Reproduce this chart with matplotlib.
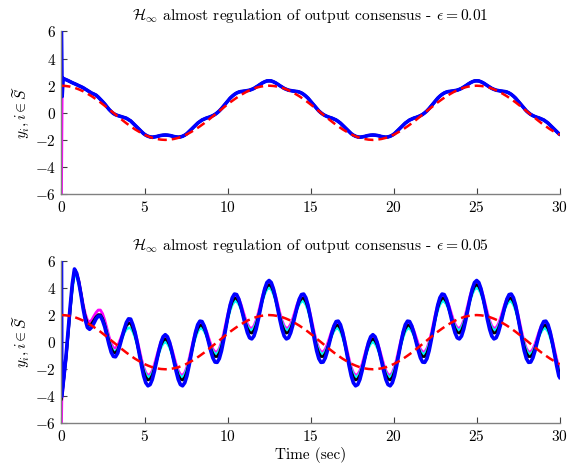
import numpy as np
import matplotlib
matplotlib.use('Agg')
import matplotlib.pyplot as plt

plt.rcParams['font.family'] = 'serif'
plt.rcParams['font.serif'] = ['cmr10']
plt.rcParams['mathtext.fontset'] = 'cm'
plt.rcParams['axes.formatter.use_mathtext'] = True

# sample times of the agent curves: t = j * 12.5 / 96, j = 1..230, then t = 30
t_fine = np.arange(1, 231) * 12.5 / 96
# sample times of the reference: t = k * 12.5 / 48, k = 1..115, then t = 30
t_coarse = np.arange(1, 116) * 12.5 / 48

# reference trajectory (red dashed), t = 0, k = 1..115, t = 30
ref = [2.00,
       1.98, 1.93, 1.85, 1.73, 1.59, 1.41, 1.22, 1.00, 0.77, 0.52, 0.26, 0.00, -0.26, -0.52, -0.77, -1.00,
       -1.22, -1.41, -1.59, -1.73, -1.85, -1.93, -1.98, -2.00, -1.98, -1.93, -1.85, -1.73, -1.59, -1.41, -1.22,
       -1.00, -0.77, -0.52, -0.26, 0.00, 0.26, 0.52, 0.77, 1.00, 1.22, 1.41, 1.59, 1.73, 1.85, 1.93, 1.98,
       2.00, 1.98, 1.93, 1.85, 1.73, 1.59, 1.41, 1.22, 1.00, 0.77, 0.52, 0.26, 0.00, -0.26, -0.52, -0.77,
       -1.00, -1.22, -1.41, -1.59, -1.73, -1.85, -1.93, -1.98, -2.00, -1.98, -1.93, -1.85, -1.73, -1.59, -1.41,
       -1.22, -1.00, -0.77, -0.52, -0.26, 0.00, 0.26, 0.52, 0.77, 1.00, 1.22, 1.41, 1.59, 1.73, 1.85, 1.93, 1.98,
       2.00, 1.98, 1.93, 1.85, 1.73, 1.59, 1.41, 1.22, 1.00, 0.77, 0.52, 0.26, 0.00, -0.26, -0.52, -0.77,
       -1.00, -1.22, -1.41, -1.59,
       -1.62]

# top panel (eps = 0.01): agents start apart and then follow one curve
top_start_times = [0.0, 0.04, 0.10]
top_start_magenta = [-6.0, 1.2, 2.50]
top_start_cyan = [1.2, 1.4, 2.50]
top_start_black = [2.0, 2.2, 2.50]
top_start_blue = [6.0, 1.2, 2.55]
top_common = [
    2.52, 2.45, 2.38, 2.30, 2.22, 2.15, 2.08, 2.00, 1.93, 1.85, 1.75, 1.65, 1.55, 1.45, 1.38, 1.30,
    1.16, 1.00, 0.83, 0.65, 0.45, 0.25, 0.09, -0.05, -0.14, -0.20, -0.25, -0.30, -0.35, -0.40, -0.50, -0.60,
    -0.76, -0.91, -1.07, -1.23, -1.39, -1.54, -1.65, -1.73, -1.78, -1.80, -1.78, -1.75, -1.71, -1.67, -1.65, -1.64,
    -1.65, -1.67, -1.71, -1.75, -1.78, -1.80, -1.78, -1.73, -1.65, -1.54, -1.39, -1.23, -1.07, -0.91, -0.76, -0.64,
    -0.53, -0.46, -0.39, -0.34, -0.28, -0.21, -0.12, 0.00, 0.14, 0.31, 0.50, 0.70, 0.89, 1.08, 1.23, 1.36,
    1.46, 1.53, 1.57, 1.59, 1.61, 1.64, 1.67, 1.73, 1.80, 1.90, 2.00, 2.11, 2.21, 2.29, 2.35,
    2.36, 2.35, 2.29, 2.21, 2.11, 2.00, 1.90, 1.80, 1.73, 1.67, 1.64, 1.61, 1.59, 1.57, 1.53, 1.46,
    1.36, 1.23, 1.08, 0.89, 0.70, 0.50, 0.31, 0.14, 0.00, -0.12, -0.21, -0.28, -0.34, -0.39, -0.46, -0.53,
    -0.64, -0.76, -0.91, -1.07, -1.23, -1.39, -1.54, -1.65, -1.73, -1.78, -1.80, -1.78, -1.75, -1.71, -1.67, -1.65,
    -1.64,
    -1.65, -1.67, -1.71, -1.75, -1.78, -1.80, -1.78, -1.73, -1.65, -1.54, -1.39, -1.23, -1.07, -0.91, -0.76, -0.64,
    -0.53, -0.46, -0.39, -0.34, -0.28, -0.21, -0.12, 0.00, 0.14, 0.31, 0.50, 0.70, 0.89, 1.08, 1.23, 1.36,
    1.46, 1.53, 1.57, 1.59, 1.61, 1.64, 1.67, 1.73, 1.80, 1.90, 2.00, 2.11, 2.21, 2.29, 2.35,
    2.36, 2.35, 2.29, 2.21, 2.11, 2.00, 1.90, 1.80, 1.73, 1.67, 1.64, 1.61, 1.59, 1.57, 1.53, 1.46,
    1.36, 1.23, 1.08, 0.89, 0.70, 0.50, 0.31, 0.14, 0.00, -0.12, -0.21, -0.28, -0.34, -0.39, -0.46, -0.53,
    -0.64, -0.76, -0.91, -1.07, -1.23, -1.39, -1.54,
    -1.58]

# bottom panel (eps = 0.05)
bot_start_times = [0.0, 0.02]
bot_start_magenta = [-6.0, -4.3]
bot_start_cyan = [-4.0, -3.9]
bot_start_black = [-4.2, -4.0]
bot_start_blue = [6.0, -4.0]

bot_magenta = [
    -2.90, -1.40, 0.40, 2.30, 4.10, 5.30, 5.10, 4.56, 3.70, 2.83, 2.10, 1.62, 1.50, 1.64, 1.93, 2.19,
    2.37, 2.37, 2.10, 1.63, 1.02, 0.41, -0.10, -0.41, -0.44, -0.25, 0.13, 0.55, 0.95, 1.30, 1.50, 1.55,
    1.22, 0.77, 0.16, -0.54, -1.24, -1.84, -2.25, -2.44, -2.38, -2.10, -1.63, -1.06, -0.48, 0.01, 0.33, 0.45,
    0.33, 0.01, -0.48, -1.06, -1.63, -2.10, -2.38, -2.44, -2.25, -1.84, -1.24, -0.54, 0.16, 0.77, 1.22, 1.45,
    1.45, 1.22, 0.84, 0.35, -0.13, -0.51, -0.72, -0.71, -0.46, 0.01, 0.65, 1.39, 2.12, 2.76, 3.21, 3.45,
    3.44, 3.21, 2.80, 2.28, 1.76, 1.34, 1.07, 1.02, 1.20, 1.60, 2.15, 2.80, 3.44, 3.97, 4.33,
    4.45, 4.33, 3.97, 3.44, 2.80, 2.15, 1.60, 1.20, 1.02, 1.07, 1.34, 1.76, 2.28, 2.80, 3.21, 3.44,
    3.45, 3.21, 2.76, 2.12, 1.39, 0.65, 0.01, -0.46, -0.71, -0.72, -0.51, -0.13, 0.35, 0.84, 1.22, 1.45,
    1.45, 1.22, 0.77, 0.16, -0.54, -1.24, -1.84, -2.25, -2.44, -2.38, -2.10, -1.63, -1.06, -0.48, 0.01, 0.33,
    0.45,
    0.33, 0.01, -0.48, -1.06, -1.63, -2.10, -2.38, -2.44, -2.25, -1.84, -1.24, -0.54, 0.16, 0.77, 1.22, 1.45,
    1.45, 1.22, 0.84, 0.35, -0.13, -0.51, -0.72, -0.71, -0.46, 0.01, 0.65, 1.39, 2.12, 2.76, 3.21, 3.45,
    3.44, 3.21, 2.80, 2.28, 1.76, 1.34, 1.07, 1.02, 1.20, 1.60, 2.15, 2.80, 3.44, 3.97, 4.33,
    4.45, 4.33, 3.97, 3.44, 2.80, 2.15, 1.60, 1.20, 1.02, 1.07, 1.34, 1.76, 2.28, 2.80, 3.21, 3.44,
    3.45, 3.21, 2.76, 2.12, 1.39, 0.65, 0.01, -0.46, -0.71, -0.72, -0.51, -0.13, 0.35, 0.84, 1.22, 1.45,
    1.45, 1.22, 0.77, 0.16, -0.54, -1.24, -1.84,
    -2.03]

bot_cyan = [
    -2.80, -1.35, 0.45, 2.30, 3.90, 5.00, 4.85, 4.30, 3.50, 2.60, 1.85, 1.30, 1.18, 1.30, 1.58, 1.85,
    1.97, 1.95, 1.70, 1.30, 0.75, 0.15, -0.35, -0.65, -0.68, -0.50, -0.10, 0.30, 0.68, 0.95, 1.05, 1.05,
    0.79, 0.37, -0.19, -0.83, -1.47, -2.02, -2.40, -2.58, -2.53, -2.28, -1.86, -1.35, -0.83, -0.39, -0.10, 0.01,
    -0.10, -0.39, -0.83, -1.35, -1.86, -2.28, -2.53, -2.58, -2.40, -2.02, -1.47, -0.83, -0.19, 0.37, 0.79, 1.01,
    1.02, 0.82, 0.49, 0.06, -0.36, -0.69, -0.87, -0.85, -0.61, -0.17, 0.42, 1.10, 1.77, 2.36, 2.78, 3.01,
    3.01, 2.81, 2.45, 1.99, 1.53, 1.16, 0.92, 0.88, 1.05, 1.42, 1.92, 2.51, 3.09, 3.57, 3.90,
    4.01, 3.90, 3.57, 3.09, 2.51, 1.92, 1.42, 1.05, 0.88, 0.92, 1.16, 1.53, 1.99, 2.45, 2.81, 3.01,
    3.01, 2.78, 2.36, 1.77, 1.10, 0.42, -0.17, -0.61, -0.85, -0.87, -0.69, -0.36, 0.06, 0.49, 0.82, 1.02,
    1.01, 0.79, 0.37, -0.19, -0.83, -1.47, -2.02, -2.40, -2.58, -2.53, -2.28, -1.86, -1.35, -0.83, -0.39, -0.10,
    0.01,
    -0.10, -0.39, -0.83, -1.35, -1.86, -2.28, -2.53, -2.58, -2.40, -2.02, -1.47, -0.83, -0.19, 0.37, 0.79, 1.01,
    1.02, 0.82, 0.49, 0.06, -0.36, -0.69, -0.87, -0.85, -0.61, -0.17, 0.42, 1.10, 1.77, 2.36, 2.78, 3.01,
    3.01, 2.81, 2.45, 1.99, 1.53, 1.16, 0.92, 0.88, 1.05, 1.42, 1.92, 2.51, 3.09, 3.57, 3.90,
    4.01, 3.90, 3.57, 3.09, 2.51, 1.92, 1.42, 1.05, 0.88, 0.92, 1.16, 1.53, 1.99, 2.45, 2.81, 3.01,
    3.01, 2.78, 2.36, 1.77, 1.10, 0.42, -0.17, -0.61, -0.85, -0.87, -0.69, -0.36, 0.06, 0.49, 0.82, 1.02,
    1.01, 0.79, 0.37, -0.19, -0.83, -1.47, -2.02,
    -2.20]

bot_black = [
    -2.80, -1.30, 0.50, 2.40, 4.10, 5.25, 5.05, 4.47, 3.60, 2.65, 1.90, 1.37, 1.26, 1.38, 1.62, 1.87,
    2.03, 2.02, 1.75, 1.28, 0.68, 0.06, -0.45, -0.76, -0.78, -0.57, -0.12, 0.37, 0.82, 1.21, 1.38, 1.40,
    1.00, 0.54, -0.10, -0.82, -1.54, -2.17, -2.59, -2.79, -2.72, -2.43, -1.93, -1.34, -0.74, -0.22, 0.11, 0.24,
    0.11, -0.22, -0.74, -1.34, -1.93, -2.43, -2.72, -2.79, -2.59, -2.17, -1.54, -0.82, -0.10, 0.54, 1.00, 1.24,
    1.23, 0.99, 0.58, 0.07, -0.43, -0.84, -1.06, -1.06, -0.80, -0.32, 0.35, 1.11, 1.86, 2.53, 2.99, 3.24,
    3.22, 2.98, 2.54, 2.00, 1.46, 1.01, 0.73, 0.67, 0.86, 1.27, 1.85, 2.52, 3.18, 3.74, 4.11,
    4.24, 4.11, 3.74, 3.18, 2.52, 1.85, 1.27, 0.86, 0.67, 0.73, 1.01, 1.46, 2.00, 2.54, 2.98, 3.22,
    3.24, 2.99, 2.53, 1.86, 1.11, 0.35, -0.32, -0.80, -1.06, -1.06, -0.84, -0.43, 0.07, 0.58, 0.99, 1.23,
    1.24, 1.00, 0.54, -0.10, -0.82, -1.54, -2.17, -2.59, -2.79, -2.72, -2.43, -1.93, -1.34, -0.74, -0.22, 0.11,
    0.24,
    0.11, -0.22, -0.74, -1.34, -1.93, -2.43, -2.72, -2.79, -2.59, -2.17, -1.54, -0.82, -0.10, 0.54, 1.00, 1.24,
    1.23, 0.99, 0.58, 0.07, -0.43, -0.84, -1.06, -1.06, -0.80, -0.32, 0.35, 1.11, 1.86, 2.53, 2.99, 3.24,
    3.22, 2.98, 2.54, 2.00, 1.46, 1.01, 0.73, 0.67, 0.86, 1.27, 1.85, 2.52, 3.18, 3.74, 4.11,
    4.24, 4.11, 3.74, 3.18, 2.52, 1.85, 1.27, 0.86, 0.67, 0.73, 1.01, 1.46, 2.00, 2.54, 2.98, 3.22,
    3.24, 2.99, 2.53, 1.86, 1.11, 0.35, -0.32, -0.80, -1.06, -1.06, -0.84, -0.43, 0.07, 0.58, 0.99, 1.23,
    1.24, 1.00, 0.54, -0.10, -0.82, -1.54, -2.17,
    -2.37]

bot_blue = [
    -2.70, -1.20, 0.70, 2.60, 4.30, 5.40, 5.10, 4.42, 3.50, 2.49, 1.65, 1.08, 0.95, 1.11, 1.40, 1.72,
    1.92, 1.92, 1.60, 1.13, 0.48, -0.18, -0.75, -1.05, -1.08, -0.81, -0.25, 0.35, 0.95, 1.45, 1.72, 1.70,
    1.29, 0.74, -0.02, -0.88, -1.74, -2.49, -3.00, -3.22, -3.13, -2.75, -2.13, -1.40, -0.66, -0.02, 0.40, 0.55,
    0.40, -0.02, -0.66, -1.40, -2.13, -2.75, -3.13, -3.22, -3.00, -2.49, -1.74, -0.88, -0.02, 0.74, 1.29, 1.55,
    1.52, 1.19, 0.66, 0.01, -0.63, -1.16, -1.47, -1.49, -1.21, -0.64, 0.15, 1.05, 1.94, 2.73, 3.28, 3.55,
    3.51, 3.18, 2.62, 1.94, 1.26, 0.69, 0.32, 0.24, 0.45, 0.95, 1.65, 2.46, 3.26, 3.94, 4.40,
    4.55, 4.40, 3.94, 3.26, 2.46, 1.65, 0.95, 0.45, 0.24, 0.32, 0.69, 1.26, 1.94, 2.62, 3.18, 3.51,
    3.55, 3.28, 2.73, 1.94, 1.05, 0.15, -0.64, -1.21, -1.49, -1.47, -1.16, -0.63, 0.01, 0.66, 1.19, 1.52,
    1.55, 1.29, 0.74, -0.02, -0.88, -1.74, -2.49, -3.00, -3.22, -3.13, -2.75, -2.13, -1.40, -0.66, -0.02, 0.40,
    0.55,
    0.40, -0.02, -0.66, -1.40, -2.13, -2.75, -3.13, -3.22, -3.00, -2.49, -1.74, -0.88, -0.02, 0.74, 1.29, 1.55,
    1.52, 1.19, 0.66, 0.01, -0.63, -1.16, -1.47, -1.49, -1.21, -0.64, 0.15, 1.05, 1.94, 2.73, 3.28, 3.55,
    3.51, 3.18, 2.62, 1.94, 1.26, 0.69, 0.32, 0.24, 0.45, 0.95, 1.65, 2.46, 3.26, 3.94, 4.40,
    4.55, 4.40, 3.94, 3.26, 2.46, 1.65, 0.95, 0.45, 0.24, 0.32, 0.69, 1.26, 1.94, 2.62, 3.18, 3.51,
    3.55, 3.28, 2.73, 1.94, 1.05, 0.15, -0.64, -1.21, -1.49, -1.47, -1.16, -0.63, 0.01, 0.66, 1.19, 1.52,
    1.55, 1.29, 0.74, -0.02, -0.88, -1.74, -2.49,
    -2.60]

titles = [r'$\mathcal{H}_\infty$ almost regulation of output consensus - $\epsilon = 0.01$',
          r'$\mathcal{H}_\infty$ almost regulation of output consensus - $\epsilon = 0.05$']
ylabel = r'$y_i, i \in \widetilde{S}$'

t_end = [30.0]
t_top = np.concatenate([top_start_times, t_fine, t_end])
t_bot = np.concatenate([bot_start_times, t_fine, t_end])
t_ref = np.concatenate([[0.0], t_coarse, t_end])

top_series = [(top_start_magenta + top_common, 'magenta'),
              (top_start_cyan + top_common, 'cyan'),
              (top_start_black + top_common, 'black'),
              (top_start_blue + top_common, 'blue')]
bot_series = [(bot_start_magenta + bot_magenta, 'magenta'),
              (bot_start_cyan + bot_cyan, 'cyan'),
              (bot_start_black + bot_black, 'black'),
              (bot_start_blue + bot_blue, 'blue')]

fig = plt.figure(figsize=(5.8, 4.7), dpi=100)
ax1 = fig.add_axes([0.106, 0.587, 0.859, 0.346])
ax2 = fig.add_axes([0.106, 0.099, 0.859, 0.346])

for ax, t, series, title in [(ax1, t_top, top_series, titles[0]), (ax2, t_bot, bot_series, titles[1])]:
    for vals, col in series:
        lw = 2.6 if col == 'blue' else 2.0
        ax.plot(t, vals, color=col, lw=lw, solid_joinstyle='round')
    ax.plot(t_ref, ref, color='red', lw=1.8, linestyle=(0, (3.6, 2.0)))
    ax.set_xlim(0, 30)
    ax.set_ylim(-6, 6)
    ax.set_xticks(np.arange(0, 31, 5))
    ax.set_yticks(np.arange(-6, 7, 2))
    for s in ['top', 'right']:
        ax.spines[s].set_visible(False)
    for s in ['left', 'bottom']:
        ax.spines[s].set_color('#808080')
        ax.spines[s].set_linewidth(1.0)
    ax.tick_params(direction='in', length=4, width=0.8, color='#404040', labelsize=11, pad=4)
    ax.set_title(title, fontsize=11.2, pad=8)
    ax.set_ylabel(ylabel, fontsize=11, labelpad=2)

ax2.set_xlabel('Time (sec)', fontsize=11, labelpad=2)

fig.savefig('out.png', dpi=100)
